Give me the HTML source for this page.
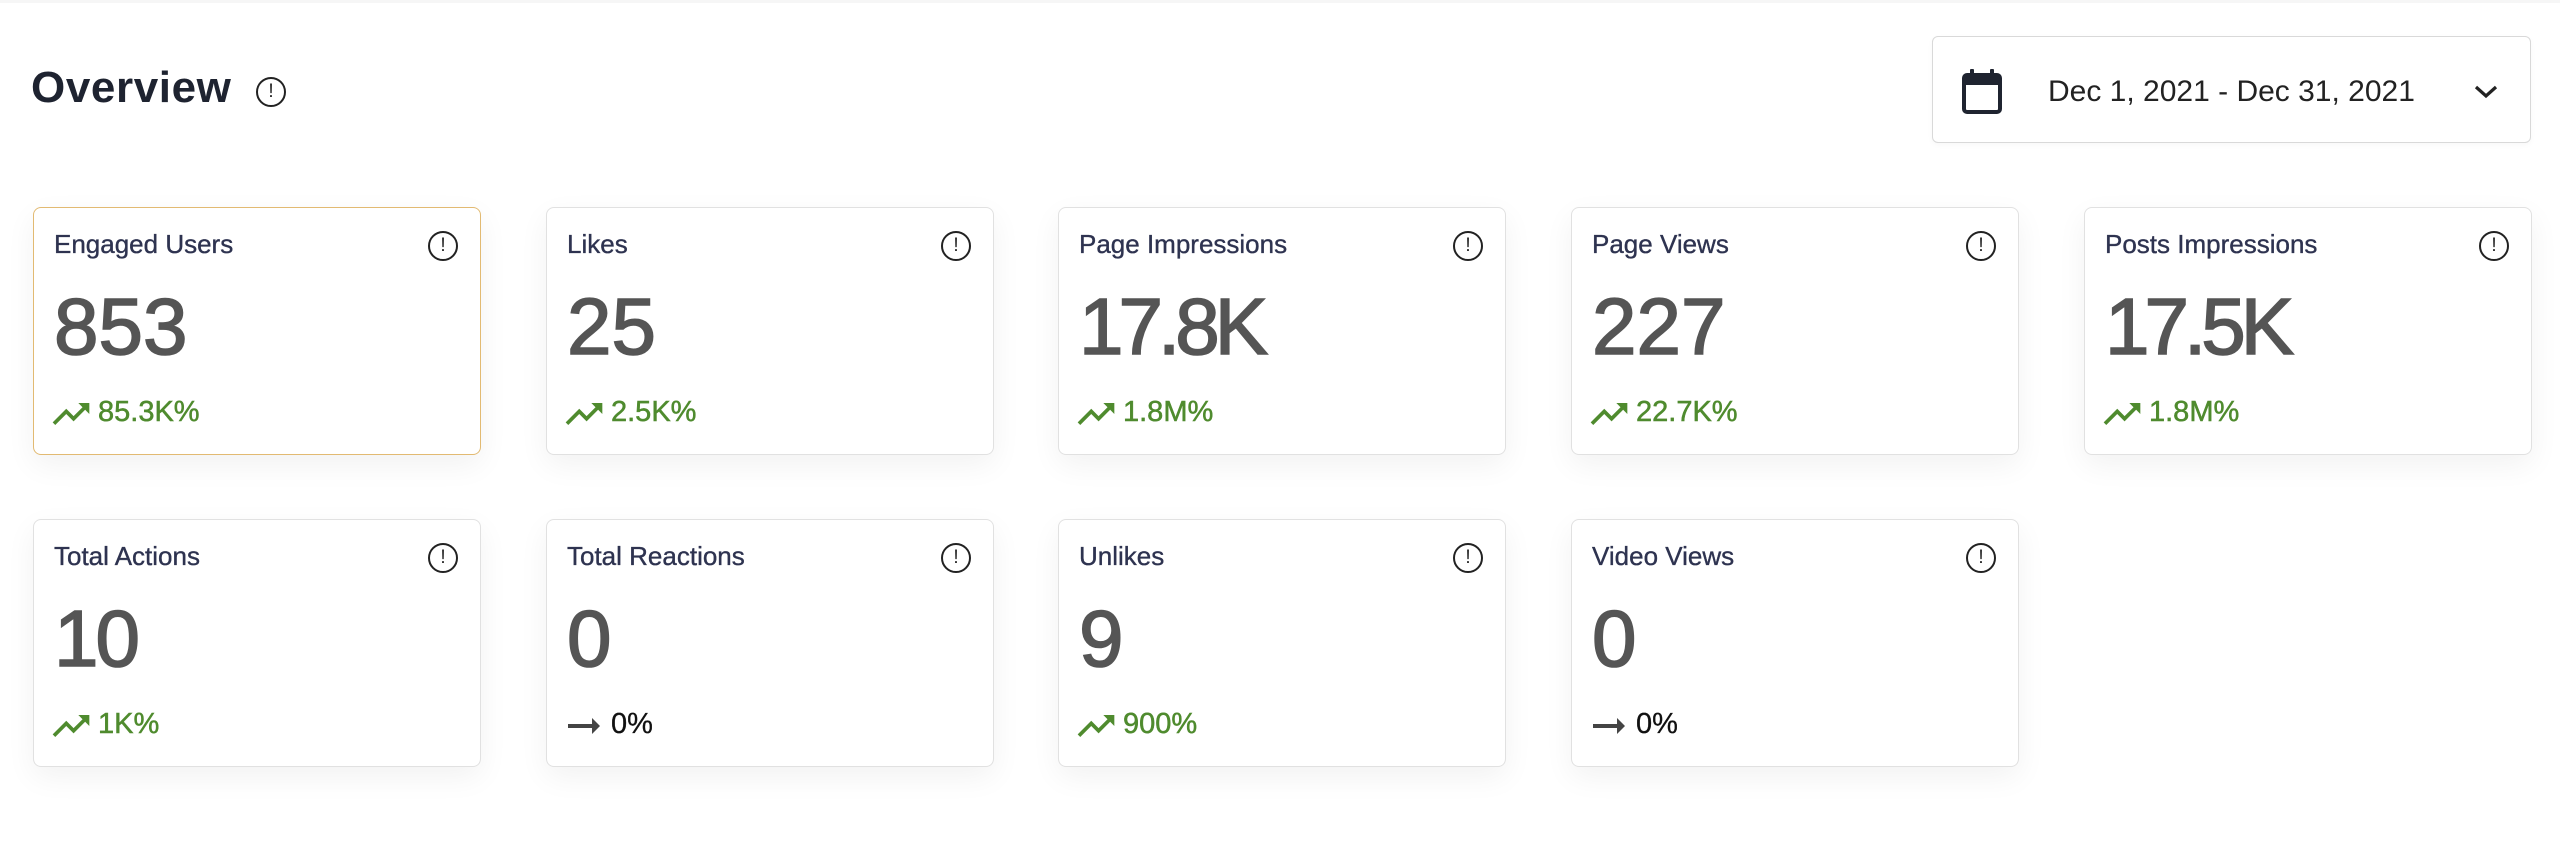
<!DOCTYPE html>
<html>
<head>
<meta charset="utf-8">
<style>
  html, body { margin:0; padding:0; }
  body { width:2560px; height:858px; background:#fff; position:relative; overflow:hidden;
         font-family:"Liberation Sans", Arial, sans-serif; }
  .topstrip { position:absolute; left:0; top:0; width:2560px; height:3px; background:#f6f6f6; }
  .h1 { position:absolute; left:31px; top:66px; font-size:44px; line-height:44px; font-weight:bold;
        color:#1e2330; letter-spacing:0.6px; white-space:nowrap; }
  .info { position:absolute; box-sizing:border-box; border:2px solid #222; border-radius:50%;
          text-align:center; color:#222; font-family:"Liberation Sans", sans-serif; }
  .datebox { position:absolute; left:1932px; top:36px; width:599px; height:107px; box-sizing:border-box;
             border:1.5px solid #d9d9d9; border-radius:6px; background:#fff;
             box-shadow:0 2px 6px rgba(0,0,0,0.03); }
  .datetext { position:absolute; left:115px; top:40px; font-size:30px; line-height:30px; color:#222;
              white-space:nowrap; }
  .card { position:absolute; width:448px; height:248px; box-sizing:border-box; background:#fff;
          border:1.5px solid #e1e1e1; border-radius:8px;
          box-shadow:0 10px 30px rgba(0,0,0,0.055); }
  .card.sel { border-color:#e2ba72; }
  .title { position:absolute; left:20px; top:23px; font-size:26px; line-height:26px; color:#2e3350;
           white-space:nowrap; -webkit-text-stroke:0.35px #2e3350; }
  .num { position:absolute; left:20px; top:79px; font-size:80px; line-height:80px; font-weight:normal;
         color:#555; white-space:nowrap; -webkit-text-stroke:1.6px #555; }
  .chg { position:absolute; left:64px; top:190px; font-size:29px; line-height:29px; color:#4f8b2e;
         white-space:nowrap; -webkit-text-stroke:0.5px #4f8b2e; }
  .chg.flat { color:#111; -webkit-text-stroke:0.3px #111; }
  .icon { position:absolute; }
  .ci { left:394px; top:23px; width:30px; height:30px; font-size:19px; line-height:26px; }
</style>
</head>
<body>
<div class="topstrip"></div>

<div class="h1">Overview</div>
<div class="info" style="left:256px;top:77px;width:30px;height:30px;font-size:19px;line-height:26px;">!</div>

<div class="datebox">
  <svg class="icon" style="left:28px;top:31px;" width="42" height="46" viewBox="0 0 42 46">
    <rect x="3" y="7" width="36" height="37" rx="3" ry="3" fill="none" stroke="#1f2430" stroke-width="4"/>
    <rect x="3" y="7" width="36" height="10" fill="#1f2430"/>
    <rect x="9" y="1" width="4" height="9" rx="1" fill="#1f2430"/>
    <rect x="29" y="1" width="4" height="9" rx="1" fill="#1f2430"/>
  </svg>
  <div class="datetext">Dec 1, 2021 - Dec 31, 2021</div>
  <svg class="icon" style="left:540px;top:46px;" width="26" height="18" viewBox="0 0 26 18">
    <polyline points="3,4 13,13 23,4" fill="none" stroke="#222" stroke-width="3.2"/>
  </svg>
</div>

<!-- Row 1 -->
<div class="card sel" style="left:33px;top:207px;">
  <div class="title">Engaged Users</div>
  <div class="info ci">!</div>
  <div class="num">853</div>
  <svg class="icon" style="left:15px;top:184px;" width="44" height="44" viewBox="0 0 24 24"><path fill="#4f8b2e" d="M16 6l2.29 2.29-4.88 4.88-4-4L2 16.59 3.41 18l6-6 4 4 6.3-6.29L22 12V6z"/></svg>
  <div class="chg">85.3K%</div>
</div>

<div class="card" style="left:546px;top:207px;">
  <div class="title">Likes</div>
  <div class="info ci">!</div>
  <div class="num">25</div>
  <svg class="icon" style="left:15px;top:184px;" width="44" height="44" viewBox="0 0 24 24"><path fill="#4f8b2e" d="M16 6l2.29 2.29-4.88 4.88-4-4L2 16.59 3.41 18l6-6 4 4 6.3-6.29L22 12V6z"/></svg>
  <div class="chg">2.5K%</div>
</div>

<div class="card" style="left:1058px;top:207px;">
  <div class="title">Page Impressions</div>
  <div class="info ci">!</div>
  <div class="num" style="letter-spacing:-5px;">17.8K</div>
  <svg class="icon" style="left:15px;top:184px;" width="44" height="44" viewBox="0 0 24 24"><path fill="#4f8b2e" d="M16 6l2.29 2.29-4.88 4.88-4-4L2 16.59 3.41 18l6-6 4 4 6.3-6.29L22 12V6z"/></svg>
  <div class="chg">1.8M%</div>
</div>

<div class="card" style="left:1571px;top:207px;">
  <div class="title">Page Views</div>
  <div class="info ci">!</div>
  <div class="num">227</div>
  <svg class="icon" style="left:15px;top:184px;" width="44" height="44" viewBox="0 0 24 24"><path fill="#4f8b2e" d="M16 6l2.29 2.29-4.88 4.88-4-4L2 16.59 3.41 18l6-6 4 4 6.3-6.29L22 12V6z"/></svg>
  <div class="chg">22.7K%</div>
</div>

<div class="card" style="left:2084px;top:207px;">
  <div class="title">Posts Impressions</div>
  <div class="info ci">!</div>
  <div class="num" style="letter-spacing:-5px;">17.5K</div>
  <svg class="icon" style="left:15px;top:184px;" width="44" height="44" viewBox="0 0 24 24"><path fill="#4f8b2e" d="M16 6l2.29 2.29-4.88 4.88-4-4L2 16.59 3.41 18l6-6 4 4 6.3-6.29L22 12V6z"/></svg>
  <div class="chg">1.8M%</div>
</div>

<!-- Row 2 -->
<div class="card" style="left:33px;top:519px;">
  <div class="title">Total Actions</div>
  <div class="info ci">!</div>
  <div class="num" style="letter-spacing:-3px;">10</div>
  <svg class="icon" style="left:15px;top:184px;" width="44" height="44" viewBox="0 0 24 24"><path fill="#4f8b2e" d="M16 6l2.29 2.29-4.88 4.88-4-4L2 16.59 3.41 18l6-6 4 4 6.3-6.29L22 12V6z"/></svg>
  <div class="chg">1K%</div>
</div>

<div class="card" style="left:546px;top:519px;">
  <div class="title">Total Reactions</div>
  <div class="info ci">!</div>
  <div class="num">0</div>
  <svg class="icon" style="left:13px;top:182px;" width="48" height="48" viewBox="0 0 24 24"><path fill="#444" d="M16.01 11H4v2h12.01v3L20 12l-3.99-4z"/></svg>
  <div class="chg flat">0%</div>
</div>

<div class="card" style="left:1058px;top:519px;">
  <div class="title">Unlikes</div>
  <div class="info ci">!</div>
  <div class="num">9</div>
  <svg class="icon" style="left:15px;top:184px;" width="44" height="44" viewBox="0 0 24 24"><path fill="#4f8b2e" d="M16 6l2.29 2.29-4.88 4.88-4-4L2 16.59 3.41 18l6-6 4 4 6.3-6.29L22 12V6z"/></svg>
  <div class="chg">900%</div>
</div>

<div class="card" style="left:1571px;top:519px;">
  <div class="title">Video Views</div>
  <div class="info ci">!</div>
  <div class="num">0</div>
  <svg class="icon" style="left:13px;top:182px;" width="48" height="48" viewBox="0 0 24 24"><path fill="#444" d="M16.01 11H4v2h12.01v3L20 12l-3.99-4z"/></svg>
  <div class="chg flat">0%</div>
</div>

</body>
</html>
